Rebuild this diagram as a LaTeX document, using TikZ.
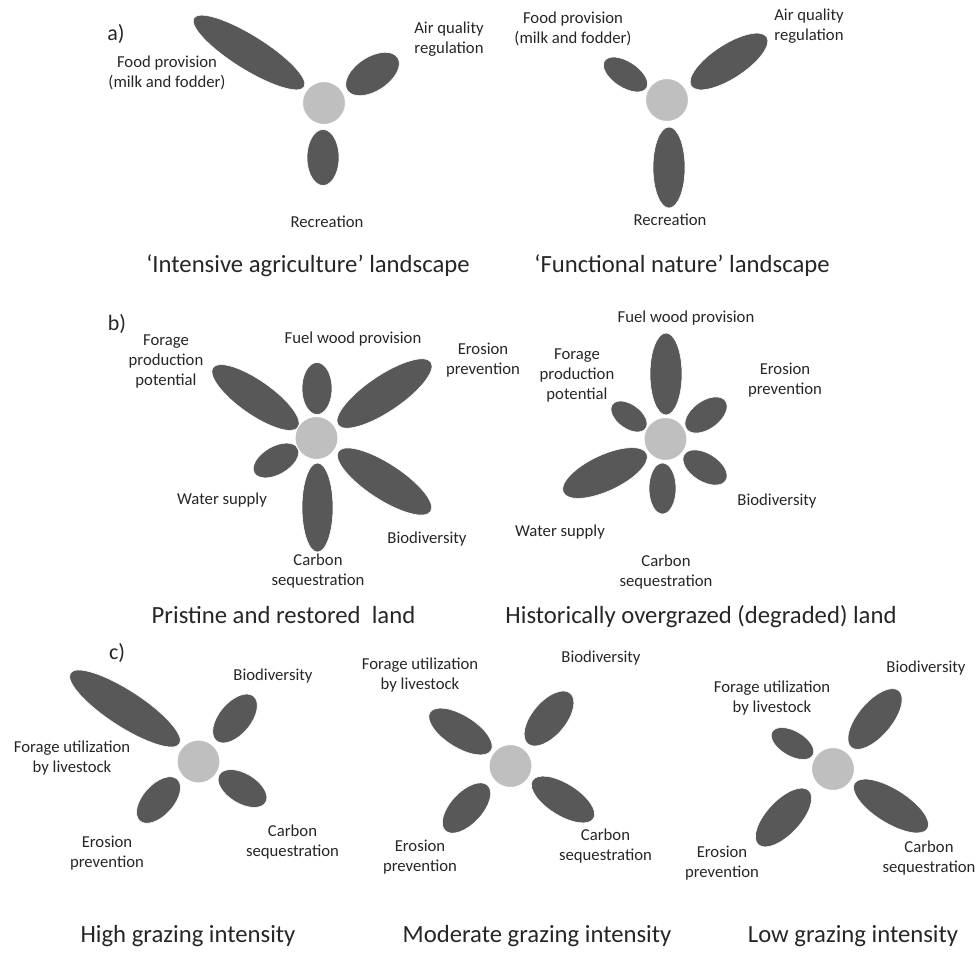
\documentclass[tikz,border=0pt]{standalone}
\usepackage{fontspec}
\setmainfont{Carlito}
\definecolor{petalgray}{HTML}{585858}
\definecolor{hubgray}{HTML}{BFBFBF}
\definecolor{inkgray}{HTML}{262626}
% one petal: centre x, centre y, angle, half length, half width
\newcommand{\petal}[5]{\fill[petal, rotate around={#3:(#1,#2)}] (#1,#2) ellipse [x radius=#4, y radius=#5];}
\begin{document}
\begin{tikzpicture}[x=1pt, y=-1pt,
  petal/.style={fill=petalgray, draw=white, line width=0.6pt},
  hub/.style={circle, fill=hubgray, draw=white, line width=1pt, inner sep=0pt, minimum size=43pt},
  lbl/.style={text=inkgray, align=center, inner sep=0pt, font=\fontsize{16.7}{20}\selectfont},
  ttl/.style={text=inkgray, anchor=base, inner sep=0pt, font=\fontsize{24.7}{29}\selectfont},
  tag/.style={text=inkgray, inner sep=0pt, font=\fontsize{22}{26}\selectfont}]
\useasboundingbox (0,0) rectangle (977,956);

% ---------- a) left: intensive agriculture ----------
\petal{249}{52.5}{148}{65}{17}
\petal{372.5}{74}{33}{30}{17}
\petal{323}{157.5}{90}{28}{16}
\node[hub] (hubA1) at (324,103) {};
\node[tag] (tagA) at (116,34) {a)};
\node[lbl] (a1food) at (167,73) {Food provision\\(milk and fodder)};
\node[lbl] (a1air) at (449,39.5) {Air quality\\regulation};
\node[lbl] (a1rec) at (327,222) {Recreation};
\node[ttl] (a1title) at (308,272) {‘Intensive agriculture’ landscape};

% ---------- a) right: functional nature ----------
\petal{625.5}{74.5}{147}{25}{13}
\petal{729}{61.5}{33}{45}{17}
\petal{669}{167.5}{90}{40.5}{16}
\node[hub] (hubA2) at (667,100) {};
\node[lbl] (a2food) at (573,29) {Food provision\\(milk and fodder)};
\node[lbl] (a2air) at (809,26) {Air quality\\regulation};
\node[lbl] (a2rec) at (670,220) {Recreation};
\node[ttl] (a2title) at (682,272) {‘Functional nature’ landscape};

% ---------- b) left: pristine and restored land ----------
\petal{317}{388.5}{90}{26}{15}
\petal{255.5}{397.5}{145}{52}{17}
\petal{384.5}{393.5}{34}{56}{18}
\petal{276}{460.5}{30}{25}{14}
\petal{317.5}{507.5}{90}{44.5}{15.5}
\petal{384.5}{481.5}{-33}{55}{18}
\node[hub] (hubB1) at (316.5,438) {};
\node[tag] (tagB) at (117,324) {b)};
\node[lbl] (b1forage) at (166,361) {Forage\\production\\potential};
\node[lbl] (b1fuel) at (353,339) {Fuel wood provision};
\node[lbl] (b1eros) at (483,360) {Erosion\\prevention};
\node[lbl] (b1water) at (222,500) {Water supply};
\node[lbl] (b1bio) at (427,539) {Biodiversity};
\node[lbl] (b1carb) at (318,571) {Carbon\\sequestration};
\node[ttl] (b1title) at (283.5,623) {Pristine and restored\ \ land};

% ---------- b) right: historically overgrazed land ----------
\petal{666}{374}{90}{41}{16}
\petal{629}{416.5}{144}{20.5}{12}
\petal{706}{415}{36}{24}{14}
\petal{605}{473}{205}{46}{18}
\petal{662.5}{488.5}{90}{25.5}{13.5}
\petal{705}{467.5}{-32}{24.5}{14}
\node[hub] (hubB2) at (665.5,439) {};
\node[lbl] (b2fuel) at (686,318) {Fuel wood provision};
\node[lbl] (b2forage) at (577,375) {Forage\\production\\potential};
\node[lbl] (b2eros) at (785,380) {Erosion\\prevention};
\node[lbl] (b2bio) at (777,501) {Biodiversity};
\node[lbl] (b2water) at (560,532) {Water supply};
\node[lbl] (b2carb) at (666,572) {Carbon\\sequestration};
\node[ttl] (b2title) at (701,623) {Historically overgrazed (degraded) land};

% ---------- c) left: high grazing intensity ----------
\petal{125}{708.5}{147}{65}{18}
\petal{235}{718.5}{50}{29}{16}
\petal{242.5}{788.5}{-31}{27}{15}
\petal{158.5}{800}{48}{28}{15.5}
\node[hub] (hubC1) at (198.5,761.5) {};
\node[tag] (tagC) at (117,653) {c)};
\node[lbl] (c1bio) at (273,676) {Biodiversity};
\node[lbl] (c1forage) at (72,758.5) {Forage utilization\\by livestock};
\node[lbl] (c1eros) at (107,853) {Erosion\\prevention};
\node[lbl] (c1carb) at (292.5,842) {Carbon\\sequestration};
\node[ttl] (c1title) at (188,942) {High grazing intensity};

% ---------- c) middle: moderate grazing intensity ----------
\petal{460.5}{731.5}{148}{36}{16}
\petal{549}{718.5}{50}{33}{17}
\petal{563}{799.5}{-32}{36}{16}
\petal{466.5}{808}{47}{31}{16}
\node[hub] (hubC2) at (510.5,766) {};
\node[lbl] (c2forage) at (420,675) {Forage utilization\\by livestock};
\node[lbl] (c2bio) at (601,658) {Biodiversity};
\node[lbl] (c2eros) at (420,857) {Erosion\\prevention};
\node[lbl] (c2carb) at (605.5,846) {Carbon\\sequestration};
\node[ttl] (c2title) at (537,942) {Moderate grazing intensity};

% ---------- c) right: low grazing intensity ----------
\petal{792.5}{743.5}{150}{23.5}{12.5}
\petal{875}{719}{50}{37}{17}
\petal{891}{806}{-32}{43}{17}
\petal{783.5}{817.5}{47}{37}{17}
\node[hub] (hubC3) at (833,769) {};
\node[lbl] (c3bio) at (926,668) {Biodiversity};
\node[lbl] (c3forage) at (772,698) {Forage utilization\\by livestock};
\node[lbl] (c3eros) at (722,863) {Erosion\\prevention};
\node[lbl] (c3carb) at (929,858) {Carbon\\sequestration};
\node[ttl] (c3title) at (853,942) {Low grazing intensity};
\end{tikzpicture}
\end{document}
